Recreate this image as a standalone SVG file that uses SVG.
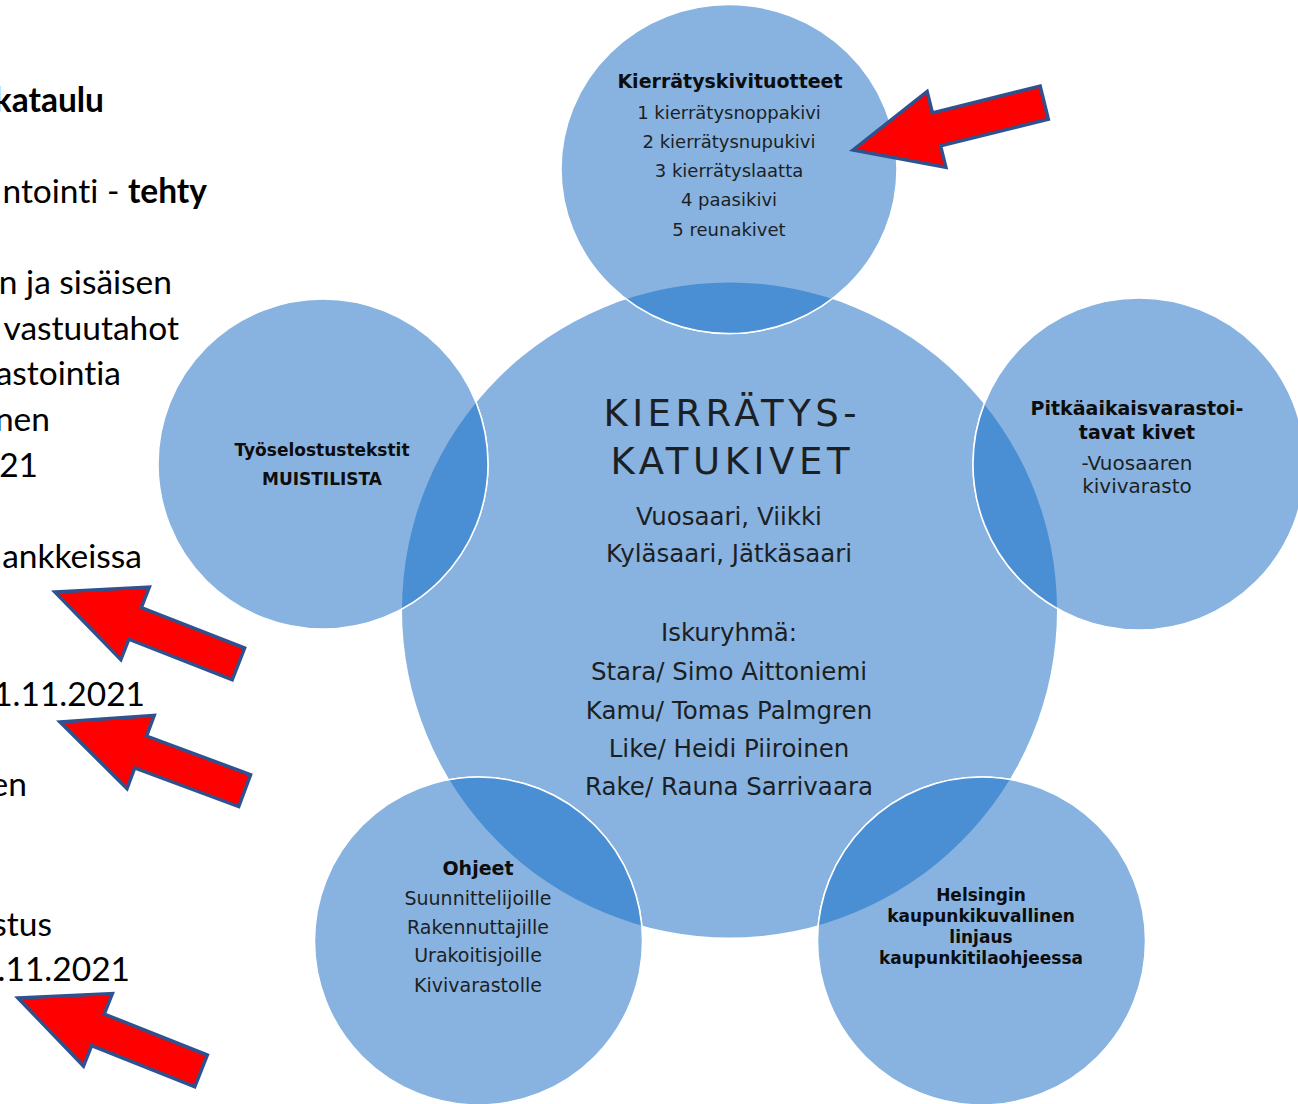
<svg xmlns="http://www.w3.org/2000/svg" xmlns:xlink="http://www.w3.org/1999/xlink" width="1298" height="1104" viewBox="0 0 1298 1104">
<style>
.lt{font-family:Lato,"Liberation Sans",Arial,sans-serif;font-size:33.5px;fill:#000;text-anchor:end;font-variant-ligatures:none;font-feature-settings:"liga" 0}
.b{font-weight:bold}
.ct{font-family:"DejaVu Sans","Noto Sans",sans-serif;fill:#1c1f24;text-anchor:middle}
.cb{font-family:"DejaVu Sans","Noto Sans",sans-serif;fill:#0d0d0d;text-anchor:middle;font-weight:bold}
.circ{fill:#88b3e0;stroke:#fff;stroke-width:1.5}
.lens{fill:#4a8fd3;stroke:#fff;stroke-width:1.5}
.arr{fill:#ff0000;stroke:#2f528f;stroke-width:3.5;stroke-linejoin:miter}
</style>
<defs>
<polygon id="arrowShape" points="0,0 86,-39 86,-17 197,-17 197,17 86,17 86,39"/>
<clipPath id="centerClip"><circle cx="729.5" cy="610" r="327.5"/></clipPath>
</defs>
<rect width="1298" height="1104" fill="#fff"/>

<g id="left-text">
<text class="lt b" x="104" y="112">kataulu</text>
<text class="lt" x="207" y="203">ntointi - <tspan class="b">tehty</tspan></text>
<text class="lt" x="172" y="294">n ja sisäisen</text>
<text class="lt" x="179" y="340">vastuutahot</text>
<text class="lt" x="121" y="385">astointia</text>
<text class="lt" x="50" y="431">nen</text>
<text class="lt" x="38" y="477">21</text>
<text class="lt" x="142" y="568">ankkeissa</text>
<text class="lt" x="145" y="706">1.11.2021</text>
<text class="lt" x="27" y="796">en</text>
<text class="lt" x="52" y="936">stus</text>
<text class="lt" x="130" y="981">.11.2021</text>
</g>

<g id="center-circle">
<circle cx="729.5" cy="610" r="327.5" fill="#88b3e0"/>
</g>

<g id="outer-circles">
<ellipse class="circ" cx="729" cy="169" rx="168" ry="164.5"/>
<circle class="circ" cx="323" cy="464" r="165"/>
<circle class="circ" cx="1139" cy="464" r="166"/>
<circle class="circ" cx="478.5" cy="941" r="164"/>
<circle class="circ" cx="981.5" cy="941" r="164"/>
</g>

<g id="overlaps" clip-path="url(#centerClip)">
<ellipse class="lens" cx="729" cy="169" rx="168" ry="164.5"/>
<circle class="lens" cx="323" cy="464" r="165"/>
<circle class="lens" cx="1139" cy="464" r="166"/>
<circle class="lens" cx="478.5" cy="941" r="164"/>
<circle class="lens" cx="981.5" cy="941" r="164"/>
</g>

<g id="node-center">
<text class="ct" x="730" y="425.5" font-size="37" textLength="253" lengthAdjust="spacing">KIERRÄTYS-</text>
<text class="ct" x="730" y="473.5" font-size="37" textLength="239" lengthAdjust="spacing">KATUKIVET</text>
<text class="ct" x="729" y="525" font-size="24.5">Vuosaari, Viikki</text>
<text class="ct" x="729" y="562" font-size="24.5">Kyläsaari, Jätkäsaari</text>
<text class="ct" x="729" y="641" font-size="24.5">Iskuryhmä:</text>
<text class="ct" x="729" y="680" font-size="24.5">Stara/ Simo Aittoniemi</text>
<text class="ct" x="729" y="719" font-size="24.5">Kamu/ Tomas Palmgren</text>
<text class="ct" x="729" y="757" font-size="24.5">Like/ Heidi Piiroinen</text>
<text class="ct" x="729" y="795" font-size="24.5">Rake/ Rauna Sarrivaara</text>
</g>

<g id="node-top">
<text class="cb" x="730" y="88" font-size="19">Kierrätyskivituotteet</text>
<text class="ct" x="729" y="118.5" font-size="18">1 kierrätysnoppakivi</text>
<text class="ct" x="729" y="147.5" font-size="18">2 kierrätysnupukivi</text>
<text class="ct" x="729" y="176.5" font-size="18">3 kierrätyslaatta</text>
<text class="ct" x="729" y="205.5" font-size="18">4 paasikivi</text>
<text class="ct" x="729" y="235.5" font-size="18">5 reunakivet</text>
</g>

<g id="node-left">
<text class="cb" x="322" y="456" font-size="17">Työselostustekstit</text>
<text class="cb" x="322" y="485" font-size="17">MUISTILISTA</text>
</g>

<g id="node-right">
<text class="cb" x="1137" y="415" font-size="19">Pitkäaikaisvarastoi-</text>
<text class="cb" x="1137" y="439" font-size="19">tavat kivet</text>
<text class="ct" x="1137" y="470" font-size="20">-Vuosaaren</text>
<text class="ct" x="1137" y="493" font-size="20">kivivarasto</text>
</g>

<g id="node-bottom-left">
<text class="cb" x="478" y="875" font-size="19">Ohjeet</text>
<text class="ct" x="478" y="905" font-size="19">Suunnittelijoille</text>
<text class="ct" x="478" y="934" font-size="19">Rakennuttajille</text>
<text class="ct" x="478" y="962" font-size="19">Urakoitisjoille</text>
<text class="ct" x="478" y="992" font-size="19">Kivivarastolle</text>
</g>

<g id="node-bottom-right">
<text class="cb" x="981" y="901" font-size="17">Helsingin</text>
<text class="cb" x="981" y="922" font-size="17">kaupunkikuvallinen</text>
<text class="cb" x="981" y="943" font-size="17">linjaus</text>
<text class="cb" x="981" y="964" font-size="17">kaupunkitilaohjeessa</text>
</g>

<g id="arrows">
<use xlink:href="#arrowShape" class="arr" transform="translate(853,150) rotate(-13.9)"/>
<use xlink:href="#arrowShape" class="arr" transform="translate(55,592) rotate(21.4)"/>
<use xlink:href="#arrowShape" class="arr" transform="translate(60,722) rotate(20.4)"/>
<use xlink:href="#arrowShape" class="arr" transform="translate(18,998) rotate(21.7)"/>
</g>
</svg>
